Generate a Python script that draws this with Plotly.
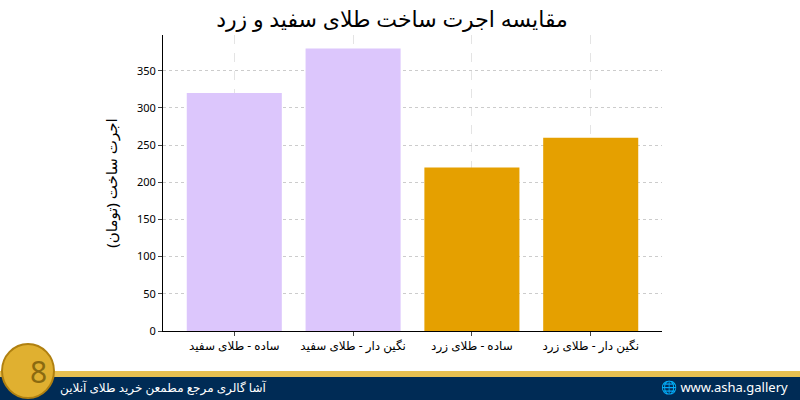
import plotly.graph_objects as go

categories = ['ساده - طلای سفید', 'نگین دار - طلای سفید', 'ساده - طلای زرد', 'نگین دار - طلای زرد']
values = [320, 380, 220, 260]
colors = ['#dcc6fc', '#dcc6fc', '#e5a000', '#e5a000']

fig = go.Figure(go.Bar(x=categories, y=values, marker_color=colors, width=0.8,
                       marker_line_width=0))

fig.update_layout(
    width=800, height=400,
    margin=dict(l=163, r=138, t=35, b=69),
    paper_bgcolor='white', plot_bgcolor='white',
    font=dict(family='Noto Sans, DejaVu Sans', size=12, color='black'),
    title=dict(text='مقایسه اجرت ساخت طلای سفید و زرد', x=0.49, y=0.97,
               xanchor='center', yanchor='top', font=dict(size=22)),
    showlegend=False,
)
fig.update_xaxes(range=[-0.6, 3.6], showline=True, linecolor='black', ticks='outside', ticklen=4,
                 showgrid=True, gridcolor='#e4e4e4', griddash='dash', tickfont=dict(size=12))
fig.update_yaxes(range=[0, 398], dtick=50, showline=True, linecolor='black', ticks='outside',
                 ticklen=4, showgrid=True, gridcolor='#cccccc', griddash='dot',
                 title=dict(text='اجرت ساخت (تومان)', font=dict(size=15)), tickfont=dict(size=11))

# footer
fig.add_shape(type='rect', xref='paper', yref='paper', x0=-0.33, x1=1.3,
              y0=-69/296 - 0.01, y1=-69/296 + 23/296, fillcolor='#002b55', line_width=0)
fig.add_shape(type='rect', xref='paper', yref='paper', x0=-0.33, x1=1.3,
              y0=-69/296 + 23/296, y1=-69/296 + 29/296, fillcolor='#e8c050', line_width=0)
# logo
fig.add_shape(type='circle', xref='paper', yref='paper',
              x0=(2 - 163) / 499, x1=(54 - 163) / 499,
              y0=(331 - 398) / 296, y1=(331 - 344) / 296,
              fillcolor='#e0b030', line=dict(color='#b08010', width=2))
fig.add_annotation(text='8', xref='paper', yref='paper', yanchor='middle',
                   x=(28 - 163) / 499, y=(331 - 371) / 296, showarrow=False,
                   font=dict(size=30, color='#8a6a10'))
fig.add_annotation(text='آشا گالری مرجع مطمعن خرید طلای آنلاین', xref='paper', yref='paper',
                   x=(58 - 163) / 499, y=(331 - 387) / 296, xanchor='left', yanchor='middle',
                   showarrow=False, font=dict(size=12, color='white'))
fig.add_annotation(text='🌐 www.asha.gallery', xref='paper', yref='paper',
                   x=(790 - 163) / 499, y=(331 - 387) / 296, xanchor='right', yanchor='middle',
                   showarrow=False, font=dict(size=13, color='white'))

fig.write_html('out.html', config={'displayModeBar': False},
               post_script="document.body.style.margin='0';")
